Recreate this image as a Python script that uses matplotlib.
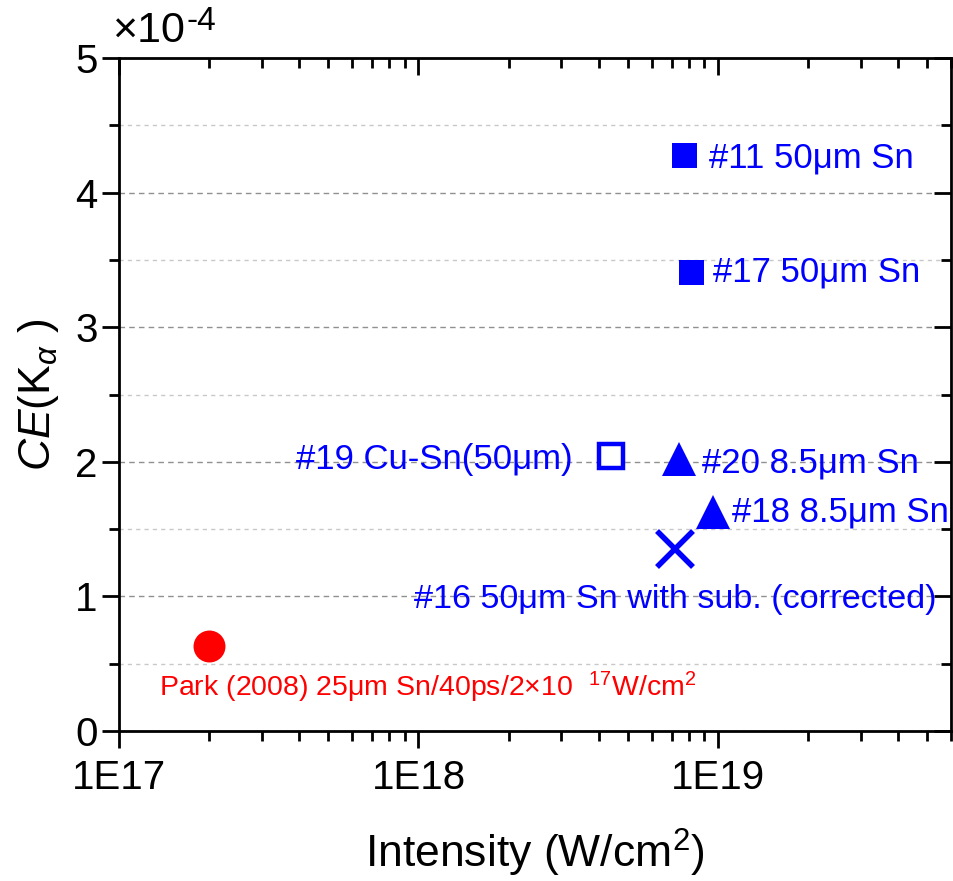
import matplotlib
matplotlib.use("Agg")
import matplotlib.pyplot as plt
from matplotlib.ticker import FixedLocator, LogLocator, NullFormatter, MultipleLocator

plt.rcParams['font.family'] = ['Liberation Sans', 'DejaVu Sans']
plt.rcParams['mathtext.fontset'] = 'custom'
plt.rcParams['mathtext.rm'] = 'Liberation Sans'
plt.rcParams['mathtext.it'] = 'Liberation Sans:italic'

# data (CE in units of 1e-4)
labels = ["#11 50μm Sn", "#17 50μm Sn", "#19 Cu-Sn(50μm)", "#20 8.5μm Sn",
          "#18 8.5μm Sn", "#16 50μm Sn with sub. (corrected)"]
intensity = [7.7e18, 8.1e18, 4.4e18, 7.4e18, 9.6e18, 7.2e18]
ce = [4.28, 3.41, 2.04, 2.02, 1.63, 1.35]
park_intensity = [2.0e17]
park_ce = [0.63]
x_ticks = [1e17, 1e18, 1e19]
x_ticklabels = ["1E17", "1E18", "1E19"]

fig = plt.figure(figsize=(9.54, 8.81), dpi=100)
ax = fig.add_axes([119/954, 1-731/881, (951-119)/954, (731-58)/881])

blue = '#0000ff'
red = '#ff0000'
# filled squares
ax.plot(intensity[0:2], ce[0:2], 's', color=blue, ms=18, mew=0, zorder=5)
# open square
ax.plot(intensity[2:3], ce[2:3], 's', mfc='white', mec=blue, ms=17, mew=3.2, zorder=5)
# triangles
ax.plot(intensity[3:5], ce[3:5], '^', color=blue, ms=25, mew=0, zorder=5)
# cross
ax.plot(intensity[5:6], ce[5:6], 'x', color=blue, ms=26, mew=4, zorder=5)
# Park
ax.plot(park_intensity, park_ce, 'o', color=red, ms=23, mew=0, zorder=5)

fs = 25
ax.annotate(labels[0], (intensity[0], ce[0]), xytext=(18, -2), textcoords='offset points',
            color=blue, fontsize=fs, va='center', ha='left')
ax.annotate(labels[1], (intensity[1], ce[1]), xytext=(16, 0), textcoords='offset points',
            color=blue, fontsize=fs, va='center', ha='left')
ax.annotate(labels[2], (intensity[2], ce[2]), xytext=(-28, -2), textcoords='offset points',
            color=blue, fontsize=fs, va='center', ha='right')
ax.annotate(labels[3], (intensity[3], ce[3]), xytext=(17, -3), textcoords='offset points',
            color=blue, fontsize=fs, va='center', ha='left')
ax.annotate(labels[4], (intensity[4], ce[4]), xytext=(14, 0), textcoords='offset points',
            color=blue, fontsize=fs, va='center', ha='left')
ax.annotate(labels[5], (intensity[5], ce[5]), xytext=(0, -36), textcoords='offset points',
            color=blue, fontsize=24.6, va='center', ha='center')
ax.annotate("Park (2008) 25μm Sn/40ps/2×10  $^{17}$W/cm$^{2}$", (park_intensity[0], park_ce[0]),
            xytext=(-36, -30), textcoords='offset points',
            color=red, fontsize=20.5, va='center', ha='left')

ax.set_xscale('log')
ax.set_xlim(1e17, 6e19)
ax.set_ylim(0, 5)
ax.xaxis.set_major_locator(FixedLocator(x_ticks))
ax.set_xticklabels(x_ticklabels)
ax.xaxis.set_minor_locator(LogLocator(base=10, subs=range(2, 10)))
ax.xaxis.set_minor_formatter(NullFormatter())
ax.yaxis.set_major_locator(MultipleLocator(1))
ax.yaxis.set_minor_locator(MultipleLocator(0.5))

ax.grid(True, axis='y', which='major', color='#909090', ls=(0, (4, 3)), lw=1)
ax.grid(True, axis='y', which='minor', color='#c8c8c8', ls=(0, (3, 3)), lw=1)
ax.set_axisbelow(True)

for s in ax.spines.values():
    s.set_linewidth(2)
ax.tick_params(axis='both', which='major', labelsize=29, width=2, length=12, direction='out')
ax.tick_params(axis='both', which='minor', width=2, length=7, direction='out')
ax.tick_params(top=True, right=True, which='both')
ax.tick_params(axis='x', which='major', pad=8)
# top/right ticks inward
for t in ax.xaxis.get_major_ticks() + ax.xaxis.get_minor_ticks():
    t.tick2line.set_marker(3)  # TICKDOWN
for t in ax.yaxis.get_major_ticks() + ax.yaxis.get_minor_ticks():
    t.tick2line.set_marker(0)  # TICKLEFT

ax.set_xlabel("Intensity (W/cm$^{ 2}$)", fontsize=32, labelpad=22)
ax.set_ylabel("$\\mathit{CE}$(K$_{\\alpha}$ )", fontsize=32, labelpad=10)
fig.text(112/954, 1-31/881, "×10", fontsize=31, va='center', ha='left')
fig.text(187/954, 1-21/881, "-4", fontsize=24, va='center', ha='left')

fig.savefig("out.png", dpi=100)
